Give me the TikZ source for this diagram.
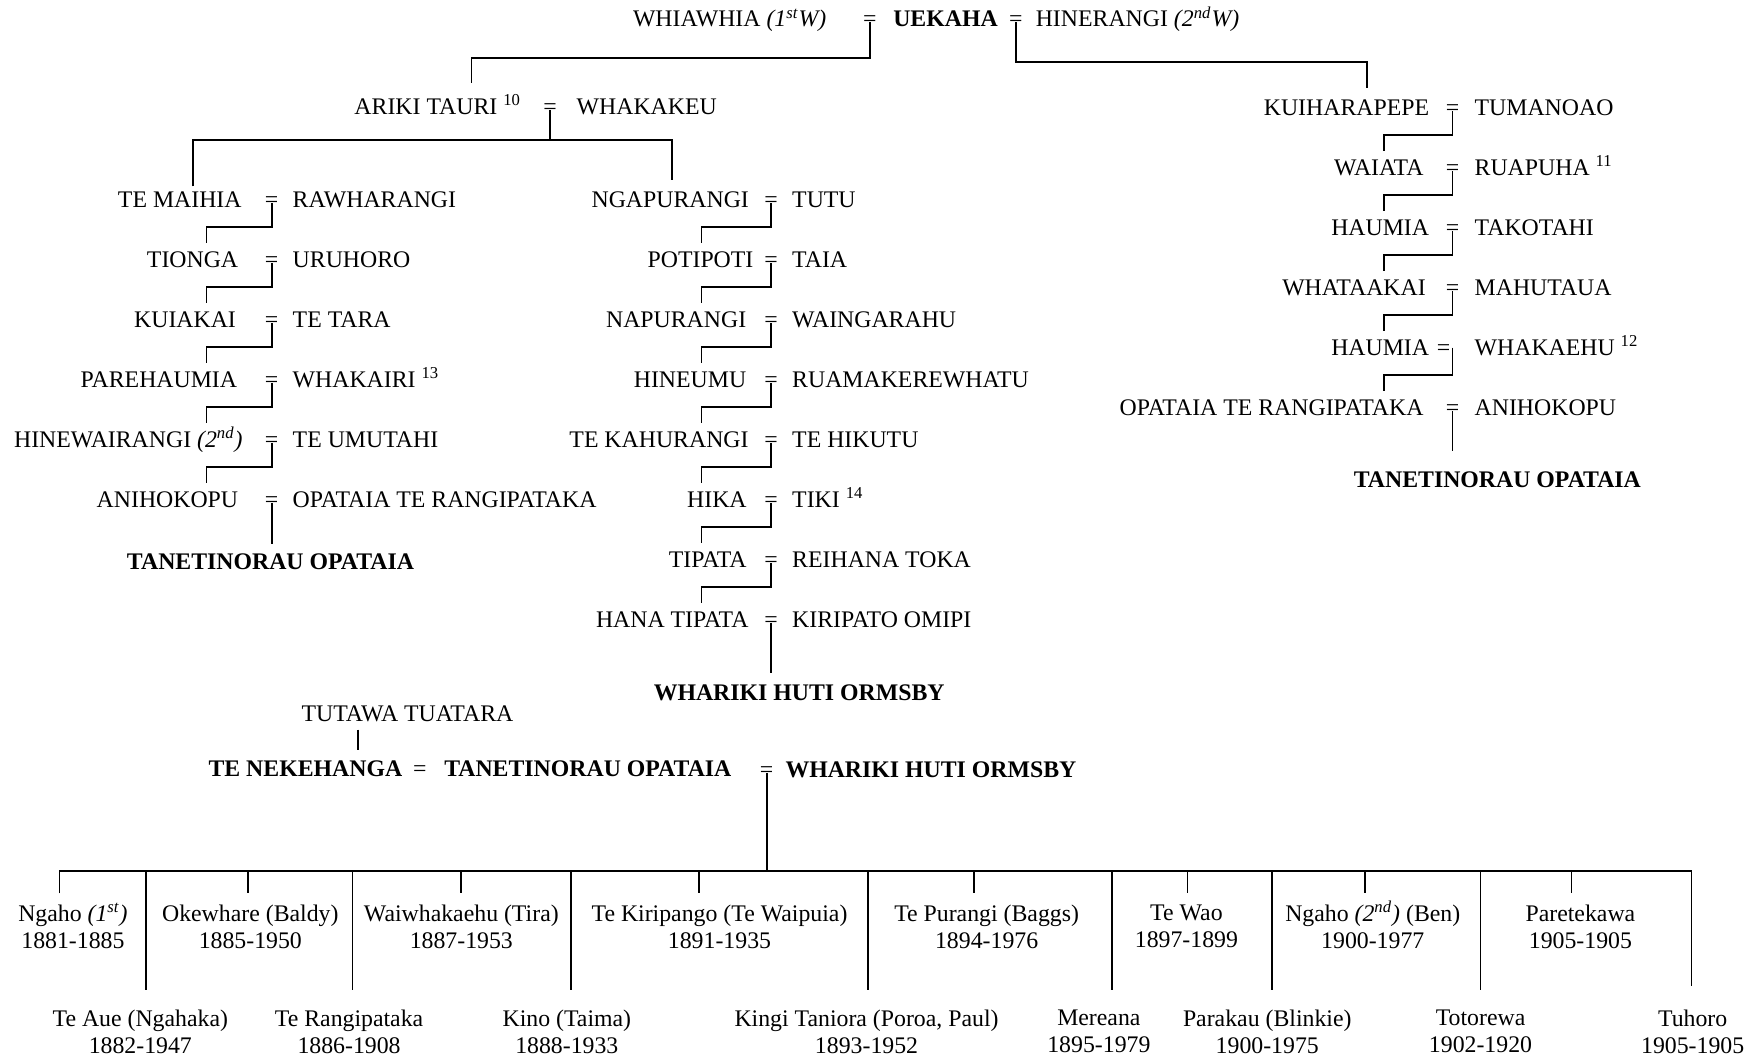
\documentclass[tikz,border=0pt]{standalone}
\usepackage{fontspec}
\setmainfont{Liberation Serif}
\usepackage{tikz}

\begin{document}
\begin{tikzpicture}[x=0.5pt,y=-0.5pt,line width=0.8pt,font=\fontsize{10.6}{12}\selectfont]
      \tikzstyle{every node}+=[inner sep=0pt]
      \tikzstyle{lname}=[anchor=base east]
      \tikzstyle{rname}=[anchor=base west]
      \tikzstyle{eqmark}=[anchor=base]
      \tikzstyle{heir}=[anchor=base,font=\fontsize{10.6}{12}\selectfont\bfseries]
      \tikzstyle{kid}=[anchor=north,align=center]
      \useasboundingbox (0,0) rectangle (1568,941);

      % Uekaha and his two wives
      \node[lname] (whiawhia) at (737,24) {WHIAWHIA \textit{(1\textsuperscript{st}W)}};
      \node[eqmark] (e1) at (775,24) {=};
      \node[rname] (uekaha) at (795,24) {\textbf{UEKAHA}};
      \node[eqmark] (e2) at (905,24) {=};
      \node[rname] (hinerangi) at (922,24) {HINERANGI \textit{(2\textsuperscript{nd}W)}};
      \coordinate (dariki) at (420,74);
      \coordinate (dkuih) at (1218,78);
      \draw ([yshift=2pt]e1.base) -- ++(0,32) -| (dariki);
      \draw ([yshift=2pt]e2.base) -- ++(0,35) -| (dkuih);

      % Ariki Tauri
      \node[lname] (ariki) at (465,102) {ARIKI TAURI \textsuperscript{10}};
      \node[eqmark] (e3) at (490,102) {=};
      \node[rname] (whakakeu) at (513,102) {WHAKAKEU};
      \coordinate (dmaihia) at (172,166);
      \coordinate (dngap) at (599,160);
      \draw ([yshift=2pt]e3.base) -- ++(0,27) coordinate (hariki);
      \draw (dmaihia) |- (hariki) -| (dngap);

      % left line
      \node[lname] (maihia) at (216,185) {TE MAIHIA};
      \node[eqmark] (l1) at (242,185) {=};
      \node[rname] (rawharangi) at (260,185) {RAWHARANGI};
      \node[lname] (tionga) at (213,238.4) {TIONGA};
      \node[eqmark] (l2) at (242,238.4) {=};
      \node[rname] (uruhoro) at (260,238.4) {URUHORO};
      \node[lname] (kuiakai) at (211,291.8) {KUIAKAI};
      \node[eqmark] (l3) at (242,291.8) {=};
      \node[rname] (tetara) at (260,291.8) {TE TARA};
      \node[lname] (parehaumia) at (212,345.2) {PAREHAUMIA};
      \node[eqmark] (l4) at (242,345.2) {=};
      \node[rname] (whakairi) at (260,345.2) {WHAKAIRI \textsuperscript{13}};
      \node[lname] (hinewairangi) at (217,398.6) {HINEWAIRANGI \textit{(2\textsuperscript{nd})}};
      \node[eqmark] (l5) at (242,398.6) {=};
      \node[rname] (umutahi) at (260,398.6) {TE UMUTAHI};
      \node[lname] (anihokopu1) at (213,452) {ANIHOKOPU};
      \node[eqmark] (l6) at (242,452) {=};
      \node[rname] (opataia1) at (260,452) {OPATAIA TE RANGIPATAKA};
      \node[heir] (tane1) at (241,507) {TANETINORAU OPATAIA};
      \coordinate (dl2) at (184,216.9);
      \coordinate (dl3) at (184,270.3);
      \coordinate (dl4) at (184,323.7);
      \coordinate (dl5) at (184,377.1);
      \coordinate (dl6) at (184,430.5);
      \coordinate (dl7) at (242,485);
      \draw ([yshift=2pt]l1.base) -- ++(0,21.5) -| (dl2);
      \draw ([yshift=2pt]l2.base) -- ++(0,21.5) -| (dl3);
      \draw ([yshift=2pt]l3.base) -- ++(0,21.5) -| (dl4);
      \draw ([yshift=2pt]l4.base) -- ++(0,21.5) -| (dl5);
      \draw ([yshift=2pt]l5.base) -- ++(0,21.5) -| (dl6);
      \draw ([yshift=2pt]l6.base) -- (dl7);

      % middle line
      \node[lname] (ngapurangi) at (668,185) {NGAPURANGI};
      \node[eqmark] (m1) at (687,185) {=};
      \node[rname] (tutu) at (705,185) {TUTU};
      \node[lname] (potipoti) at (672,238.4) {POTIPOTI};
      \node[eqmark] (m2) at (687,238.4) {=};
      \node[rname] (taia) at (705,238.4) {TAIA};
      \node[lname] (napurangi) at (665.6,291.8) {NAPURANGI};
      \node[eqmark] (m3) at (687,291.8) {=};
      \node[rname] (waingarahu) at (705,291.8) {WAINGARAHU};
      \node[lname] (hineumu) at (665.6,345.2) {HINEUMU};
      \node[eqmark] (m4) at (687,345.2) {=};
      \node[rname] (ruamakere) at (705,345.2) {RUAMAKEREWHATU};
      \node[lname] (kahurangi) at (667.7,398.6) {TE KAHURANGI};
      \node[eqmark] (m5) at (687,398.6) {=};
      \node[rname] (hikutu) at (705,398.6) {TE HIKUTU};
      \node[lname] (hika) at (666,452) {HIKA};
      \node[eqmark] (m6) at (687,452) {=};
      \node[rname] (tiki) at (705,452) {TIKI \textsuperscript{14}};
      \node[lname] (tipata) at (666,505.4) {TIPATA};
      \node[eqmark] (m7) at (687,505.4) {=};
      \node[rname] (reihana) at (705,505.4) {REIHANA TOKA};
      \node[lname] (hana) at (667.7,558.8) {HANA TIPATA};
      \node[eqmark] (m8) at (687,558.8) {=};
      \node[rname] (kiripato) at (705,558.8) {KIRIPATO OMIPI};
      \node[heir] (whariki1) at (712,624) {WHARIKI HUTI ORMSBY};
      \coordinate (dm2) at (625,216.9);
      \coordinate (dm3) at (625,270.3);
      \coordinate (dm4) at (625,323.7);
      \coordinate (dm5) at (625,377.1);
      \coordinate (dm6) at (625,430.5);
      \coordinate (dm7) at (625,483.9);
      \coordinate (dm8) at (625,537.3);
      \coordinate (dm9) at (687,600);
      \draw ([yshift=2pt]m1.base) -- ++(0,21.5) -| (dm2);
      \draw ([yshift=2pt]m2.base) -- ++(0,21.5) -| (dm3);
      \draw ([yshift=2pt]m3.base) -- ++(0,21.5) -| (dm4);
      \draw ([yshift=2pt]m4.base) -- ++(0,21.5) -| (dm5);
      \draw ([yshift=2pt]m5.base) -- ++(0,21.5) -| (dm6);
      \draw ([yshift=2pt]m6.base) -- ++(0,21.5) -| (dm7);
      \draw ([yshift=2pt]m7.base) -- ++(0,21.5) -| (dm8);
      \draw ([yshift=2pt]m8.base) -- (dm9);

      % right line
      \node[lname] (kuiharapepe) at (1274,103) {KUIHARAPEPE};
      \node[eqmark] (r1) at (1294,103) {=};
      \node[rname] (tumanoao) at (1313,103) {TUMANOAO};
      \node[lname] (waiata) at (1269,156.4) {WAIATA};
      \node[eqmark] (r2) at (1294,156.4) {=};
      \node[rname] (ruapuha) at (1313,156.4) {RUAPUHA \textsuperscript{11}};
      \node[lname] (haumia1) at (1274,209.8) {HAUMIA};
      \node[eqmark] (r3) at (1294,209.8) {=};
      \node[rname] (takotahi) at (1313,209.8) {TAKOTAHI};
      \node[lname] (whataakai) at (1271,263.2) {WHATAAKAI};
      \node[eqmark] (r4) at (1294,263.2) {=};
      \node[rname] (mahutaua) at (1313,263.2) {MAHUTAUA};
      \node[lname] (haumia2) at (1274,316.6) {HAUMIA};
      \node[eqmark] (r5) at (1286,316.6) {=};
      \node[rname] (whakaehu) at (1313,316.6) {WHAKAEHU \textsuperscript{12}};
      \node[lname] (opataia2) at (1269,370) {OPATAIA TE RANGIPATAKA};
      \node[eqmark] (r6) at (1294,370) {=};
      \node[rname] (anihokopu2) at (1313,370) {ANIHOKOPU};
      \node[heir] (tane2) at (1334,434) {TANETINORAU OPATAIA};
      \coordinate (dr2) at (1233,134.9);
      \coordinate (dr3) at (1233,188.3);
      \coordinate (dr4) at (1233,241.7);
      \coordinate (dr5) at (1233,295.1);
      \coordinate (dr6) at (1233,348.5);
      \coordinate (dr7) at (1294,402);
      \coordinate (r5j) at (1294,309.6);
      \draw ([yshift=2pt]r1.base) -- ++(0,21.5) -| (dr2);
      \draw ([yshift=2pt]r2.base) -- ++(0,21.5) -| (dr3);
      \draw ([yshift=2pt]r3.base) -- ++(0,21.5) -| (dr4);
      \draw ([yshift=2pt]r4.base) -- ++(0,21.5) -| (dr5);
      \draw (r5j) -- ++(0,24.5) -| (dr6);
      \draw ([yshift=2pt]r6.base) -- (dr7);

      % Tanetinorau and Whariki
      \node[eqmark] (tutawa) at (363,643) {TUTAWA TUATARA};
      \coordinate (dtt) at (319,650);
      \draw (dtt) -- ++(0,18);
      \node[rname] (nekehanga) at (185,692) {\textbf{TE NEKEHANGA}};
      \node[eqmark] (b1) at (374,692) {=};
      \node[rname] (tane3) at (395,692) {\textbf{TANETINORAU OPATAIA}};
      \node[eqmark] (b2) at (683,693) {=};
      \node[rname] (whariki2) at (699,693) {\textbf{WHARIKI HUTI ORMSBY}};
      \coordinate (bar) at (683,776);
      \draw ([yshift=2pt]b2.base) -- (bar);

      % children
      \node[kid] (c1) at (65,805.7) {Ngaho \textit{(1\smash{\textsuperscript{st}})}\\1881-1885};
      \node[kid] (c2) at (125,898.7) {Te Aue (Ngahaka)\\1882-1947};
      \node[kid] (c3) at (223,805.7) {Okewhare (Baldy)\\1885-1950};
      \node[kid] (c4) at (311,898.7) {Te Rangipataka\\1886-1908};
      \node[kid] (c5) at (411,805.7) {Waiwhakaehu (Tira)\\1887-1953};
      \node[kid] (c6) at (505,898.7) {Kino (Taima)\\1888-1933};
      \node[kid] (c7) at (641,805.7) {Te Kiripango (Te Waipuia)\\1891-1935};
      \node[kid] (c8) at (772,898.7) {Kingi Taniora (Poroa, Paul)\\1893-1952};
      \node[kid] (c9) at (879,805.7) {Te Purangi (Baggs)\\1894-1976};
      \node[kid] (c10) at (979,898.7) {Mereana\\1895-1979};
      \node[kid] (c11) at (1057,805.7) {Te Wao\\1897-1899};
      \node[kid] (c12) at (1129,898.7) {Parakau (Blinkie)\\1900-1975};
      \node[kid] (c13) at (1223,805.7) {Ngaho \textit{(2\smash{\textsuperscript{nd}})} (Ben)\\1900-1977};
      \node[kid] (c14) at (1319,898.7) {Totorewa\\1902-1920};
      \node[kid] (c15) at (1408,805.7) {Paretekawa\\1905-1905};
      \node[kid] (c16) at (1508,898.7) {Tuhoro\\1905-1905};
      \coordinate (k1) at (53,796);
      \coordinate (k2) at (130,882);
      \coordinate (k3) at (221,796);
      \coordinate (k4) at (314,882);
      \coordinate (k5) at (411,796);
      \coordinate (k6) at (509,882);
      \coordinate (k7) at (623,796);
      \coordinate (k8) at (773,882);
      \coordinate (k9) at (868,796);
      \coordinate (k10) at (991,882);
      \coordinate (k11) at (1058,796);
      \coordinate (k12) at (1133,882);
      \coordinate (k13) at (1216,796);
      \coordinate (k14) at (1319,882);
      \coordinate (k15) at (1400,796);
      \coordinate (k16) at (1507,878);
      \draw (k1) -- (k1 |- bar) -| (k16);
      \draw (k2 |- bar) -- (k2);
      \draw (k3 |- bar) -- (k3);
      \draw (k4 |- bar) -- (k4);
      \draw (k5 |- bar) -- (k5);
      \draw (k6 |- bar) -- (k6);
      \draw (k7 |- bar) -- (k7);
      \draw (k8 |- bar) -- (k8);
      \draw (k9 |- bar) -- (k9);
      \draw (k10 |- bar) -- (k10);
      \draw (k11 |- bar) -- (k11);
      \draw (k12 |- bar) -- (k12);
      \draw (k13 |- bar) -- (k13);
      \draw (k14 |- bar) -- (k14);
      \draw (k15 |- bar) -- (k15);
    \end{tikzpicture}
\end{document}
